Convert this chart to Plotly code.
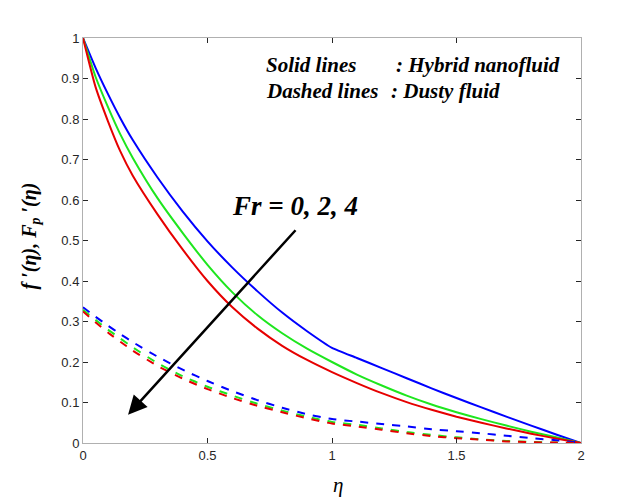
import plotly.graph_objects as go

# ---- data ----
eta = [0.0, 0.05, 0.1, 0.15, 0.2, 0.3, 0.4, 0.5, 0.6, 0.7, 0.8, 0.9, 1.0,
       1.1, 1.2, 1.3, 1.4, 1.5, 1.6, 1.7, 1.8, 1.9, 2.0]

# solid lines: hybrid nanofluid f'(eta)
f_fr0 = [1.0, 0.927, 0.862, 0.802, 0.748, 0.655, 0.572, 0.498, 0.433, 0.375, 0.322, 0.276, 0.235,
         0.210, 0.185, 0.160, 0.135, 0.111, 0.088, 0.065, 0.043, 0.021, 0.0]
f_fr2 = [1.0, 0.905, 0.830, 0.762, 0.704, 0.604, 0.519, 0.440, 0.372, 0.316, 0.271, 0.233, 0.200,
         0.169, 0.142, 0.117, 0.095, 0.076, 0.059, 0.043, 0.028, 0.014, 0.0]
f_fr4 = [1.0, 0.880, 0.795, 0.720, 0.660, 0.564, 0.478, 0.400, 0.335, 0.283, 0.240, 0.205, 0.175,
         0.148, 0.123, 0.101, 0.082, 0.065, 0.050, 0.036, 0.023, 0.011, 0.0]

# dashed lines: dusty fluid Fp'(eta)
F_fr0 = [0.335, 0.312, 0.290, 0.269, 0.249, 0.213, 0.181, 0.153, 0.128, 0.106, 0.087, 0.071, 0.059,
         0.053, 0.047, 0.041, 0.034, 0.029, 0.024, 0.018, 0.012, 0.007, 0.0]
F_fr2 = [0.329, 0.304, 0.280, 0.258, 0.236, 0.197, 0.165, 0.139, 0.117, 0.097, 0.080, 0.065, 0.052,
         0.045, 0.036, 0.027, 0.020, 0.014, 0.009, 0.005, 0.003, 0.001, 0.0]
F_fr4 = [0.325, 0.298, 0.273, 0.250, 0.228, 0.190, 0.159, 0.133, 0.111, 0.092, 0.076, 0.061, 0.048,
         0.041, 0.033, 0.024, 0.017, 0.012, 0.008, 0.004, 0.002, 0.001, 0.0]

series_names = ["Fr = 0", "Fr = 2", "Fr = 4"]
colors = ["#0000ff", "#1ee61e", "#e60000"]

x_ticks = [0, 0.5, 1, 1.5, 2]
y_ticks = [0, 0.1, 0.2, 0.3, 0.4, 0.5, 0.6, 0.7, 0.8, 0.9, 1]
x_ticklabels = ["0", "0.5", "1", "1.5", "2"]
y_ticklabels = ["0", "0.1", "0.2", "0.3", "0.4", "0.5", "0.6", "0.7", "0.8", "0.9", "1"]

fig = go.Figure()
for name, ys, c in zip(series_names, [f_fr0, f_fr2, f_fr4], colors):
    fig.add_trace(go.Scatter(x=eta, y=ys, mode="lines", name=name + " (hybrid)",
                             line=dict(color=c, width=2, shape="spline", smoothing=0.5)))
for name, ys, c in zip(series_names, [F_fr0, F_fr2, F_fr4], colors):
    fig.add_trace(go.Scatter(x=eta, y=ys, mode="lines", name=name + " (dusty)",
                             line=dict(color=c, width=2, dash="8px,8px", shape="spline", smoothing=0.5)))

serif = "Liberation Serif, Times New Roman, serif"
sans = "Liberation Sans, Arial, sans-serif"

def txt(x, y, s, size):
    return dict(x=x, y=y, xref="x", yref="y", text=s, showarrow=False,
                xanchor="left", yanchor="middle",
                font=dict(family=serif, size=size, color="black"))

ann = [
    txt(0.725, 0.933, "<b><i>Solid lines</i></b>", 21),
    txt(1.250, 0.933, "<b><i>: Hybrid nanofluid</i></b>", 21),
    txt(0.725, 0.869, "<b><i>Dashed lines</i></b>", 21),
    txt(1.230, 0.869, "<b><i>: Dusty fluid</i></b>", 21),
    txt(0.590, 0.586, "<b><i>Fr = 0, 2, 4</i></b>", 27),
    # arrow
    dict(x=0.181, y=0.070, xref="x", yref="y", ax=0.859, ay=0.529,
         axref="x", ayref="y", text="", showarrow=True,
         arrowhead=2, arrowsize=1.5, arrowwidth=2.5, arrowcolor="black"),
    # axis titles
    dict(x=0, y=0.51, xref="paper", yref="paper", xshift=-53,
         text="<b><i>f ′(η), F<sub>p</sub> ′(η)</i></b>",
         textangle=-90, showarrow=False, xanchor="center", yanchor="middle",
         font=dict(family=serif, size=20, color="black")),
    dict(x=1.024, y=0, xref="x", yref="paper", yshift=-42, text="<i>η</i>",
         showarrow=False, xanchor="center", yanchor="middle",
         font=dict(family=serif, size=21, color="black")),
]

fig.update_layout(
    width=626, height=491,
    margin=dict(l=75, r=53, t=30, b=55.5),
    paper_bgcolor="white", plot_bgcolor="white",
    showlegend=False,
    annotations=ann,
    xaxis=dict(range=[0, 2], tickvals=x_ticks, ticktext=x_ticklabels,
               showgrid=False, zeroline=False, showline=True, mirror="ticks",
               linecolor="#b0b0b0", linewidth=1, ticks="inside", ticklen=5,
               tickcolor="#262626", tickfont=dict(family=sans, size=13, color="#262626")),
    yaxis=dict(range=[0, 1], tickvals=y_ticks, ticktext=y_ticklabels,
               showgrid=False, zeroline=False, showline=True, mirror="ticks",
               linecolor="#b0b0b0", linewidth=1, ticks="inside", ticklen=5,
               tickcolor="#262626", tickfont=dict(family=sans, size=13, color="#262626")),
)

fig.write_html("out.html")
